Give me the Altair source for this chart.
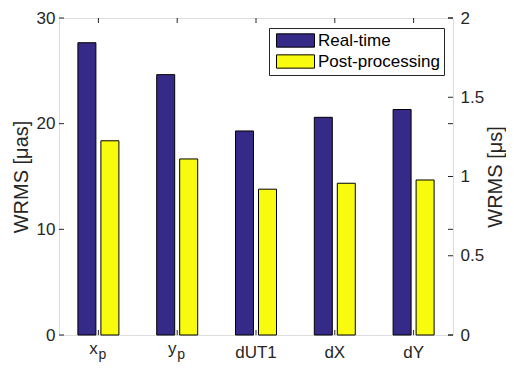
import altair as alt
import pandas as pd

categories = ["x_p", "y_p", "dUT1", "dX", "dY"]
label_main = ["x", "y", "dUT1", "dX", "dY"]
label_sub = ["p", "p", "", "", ""]
series = ["Real-time", "Post-processing"]
realtime = [27.66, 24.64, 19.31, 20.60, 21.34]
postproc = [18.38, 16.66, 13.80, 14.36, 14.67]
left_ticks = [0, 10, 20, 30]
right_ticks = [0, 0.5, 1, 1.5, 2]
colors = ["#352A87", "#F9FB0E"]

W, H = 394, 317
FONT = "Liberation Sans"
AX = "#262626"

rows = []
for c, r, p in zip(categories, realtime, postproc):
    rows.append({"cat": c, "series": series[0], "value": r})
    rows.append({"cat": c, "series": series[1], "value": p})
bars_df = pd.DataFrame(rows)
lab_df = pd.DataFrame({"cat": categories, "main": label_main, "sub": label_sub})
lt_df = pd.DataFrame({"v": left_ticks})
rt_df = pd.DataFrame({"v": right_ticks})

xscale = alt.Scale(domain=categories, paddingInner=0, paddingOuter=0)
yscale = alt.Scale(domain=[0, 30], nice=False, zero=True)
yscale_r = alt.Scale(domain=[0, 2], nice=False, zero=True)

bars = alt.Chart(bars_df).mark_bar(stroke="black", strokeWidth=1).encode(
    x=alt.X("cat:N", scale=xscale, axis=None, sort=categories),
    xOffset=alt.XOffset("series:N", sort=series,
                        scale=alt.Scale(domain=series, paddingInner=0.2174, paddingOuter=0.822)),
    y=alt.Y("value:Q", scale=yscale,
            axis=alt.Axis(title="WRMS [μas]", values=left_ticks, tickSize=0, domain=False,
                          labelFont=FONT, labelFontSize=17, labelColor=AX, labelPadding=4,
                          titleFont=FONT, titleFontSize=20, titleFontWeight="normal",
                          titleColor=AX, titlePadding=5, grid=False)),
    color=alt.Color("series:N", sort=series,
                    scale=alt.Scale(domain=series, range=colors),
                    legend=alt.Legend(title=None, orient="none", legendX=210, legendY=10,
                                      symbolType="M-2.714,-0.95L2.714,-0.95L2.714,0.95L-2.714,0.95Z",
                                      symbolSize=196, symbolOffset=14,
                                      symbolStrokeColor="black",
                                      symbolStrokeWidth=1, symbolOpacity=1,
                                      labelFont=FONT, labelFontSize=17, labelColor="black",
                                      labelOffset=14, rowPadding=2, padding=4,
                                      strokeColor=AX, fillColor="white")),
)

lt_left = alt.Chart(lt_df).mark_rule(color=AX, strokeWidth=1).encode(
    y=alt.Y("v:Q", scale=yscale), x=alt.value(0), x2=alt.value(5))
lt_right = alt.Chart(lt_df).mark_rule(color=AX, strokeWidth=1).encode(
    y=alt.Y("v:Q", scale=yscale), x=alt.value(W - 5), x2=alt.value(W))
xt_top = alt.Chart(lab_df).mark_rule(color=AX, strokeWidth=1).encode(
    x=alt.X("cat:N", scale=xscale, sort=categories), y=alt.value(0), y2=alt.value(5))
xt_bot = alt.Chart(lab_df).mark_rule(color=AX, strokeWidth=1).encode(
    x=alt.X("cat:N", scale=xscale, sort=categories), y=alt.value(H - 5), y2=alt.value(H))

main_sub = alt.Chart(lab_df).transform_filter("datum.sub != ''").mark_text(
    font=FONT, fontSize=17, color=AX, baseline="alphabetic", align="center", dx=-5
).encode(x=alt.X("cat:N", scale=xscale, sort=categories), y=alt.value(H + 19), text="main:N")
sub_txt = alt.Chart(lab_df).transform_filter("datum.sub != ''").mark_text(
    font=FONT, fontSize=14, color=AX, baseline="alphabetic", align="center", dx=4
).encode(x=alt.X("cat:N", scale=xscale, sort=categories), y=alt.value(H + 24), text="sub:N")
main_plain = alt.Chart(lab_df).transform_filter("datum.sub == ''").mark_text(
    font=FONT, fontSize=17, color=AX, baseline="alphabetic", align="center"
).encode(x=alt.X("cat:N", scale=xscale, sort=categories), y=alt.value(H + 23), text="main:N")

left = alt.layer(bars, lt_left, lt_right, xt_top, xt_bot, main_sub, sub_txt, main_plain)

right = alt.Chart(rt_df).mark_rule(color=AX, strokeWidth=1).encode(
    y=alt.Y("v:Q", scale=yscale_r,
            axis=alt.Axis(orient="right", title="WRMS [μs]", values=right_ticks, tickSize=0,
                          domain=False, labelFont=FONT, labelFontSize=17, labelColor=AX,
                          labelPadding=7, titleFont=FONT, titleFontSize=20,
                          titleFontWeight="normal", titleColor=AX, titlePadding=2,
                          titleAngle=270, titleBaseline="top", grid=False,
                          labelExpr="datum.value")),
    x=alt.value(W - 5), x2=alt.value(W))

chart = alt.layer(left, right).resolve_scale(y="independent").properties(
    width=W, height=H,
    autosize=alt.AutoSizeParams(type="none"),
    padding={"left": 51, "top": 10, "right": 53, "bottom": 28},
).configure_view(stroke=AX, strokeWidth=1).configure(background="white")

chart.save("out.html", embed_options={"renderer": "svg", "actions": False})
